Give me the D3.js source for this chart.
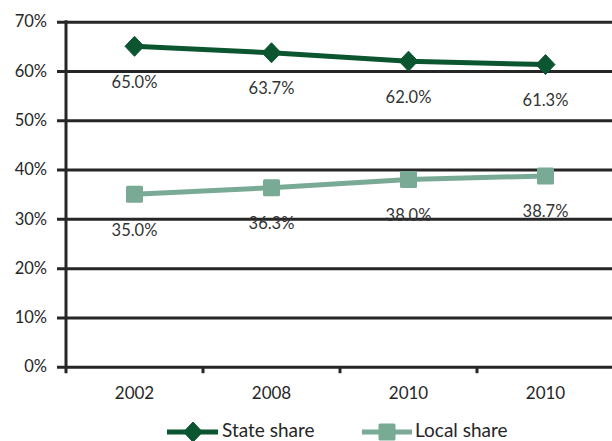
<!DOCTYPE html>
<html><head><meta charset="utf-8">
<script src="https://cdn.jsdelivr.net/npm/d3@7"></script>
<style>
html,body{margin:0;padding:0;background:#fff;}
svg{display:block;}
text{font-family:Lato,"Open Sans",sans-serif;}
</style></head>
<body>
<svg id="c" width="612" height="441"></svg>
<script>
const categories = ["2002", "2008", "2010", "2010"];
const stateShare = [65.0, 63.7, 62.0, 61.3];
const localShare = [35.0, 36.3, 38.0, 38.7];
const yTicks = [0, 10, 20, 30, 40, 50, 60, 70];
const seriesNames = ["State share", "Local share"];

(function () {
const W = 612, H = 441;
const plotLeft = 66, plotTop = 21.7, plotBottom = 366.7, bandW = 137;
const svg = d3.select("#c");

const x = d3.scaleBand().domain(d3.range(categories.length)).range([plotLeft, plotLeft + bandW * categories.length]).padding(0);
const y = d3.scaleLinear().domain([0, 70]).range([plotBottom, plotTop]);

const gridColor = "#262626";
const darkG = "#0b5631";
const lightG = "#79aa95";

// y axis with gridlines
const ya = svg.append("g").attr("transform", `translate(${plotLeft},0)`)
  .call(d3.axisLeft(y).tickValues(yTicks).tickFormat(d => d + "%").tickSizeOuter(0).tickSize(9).tickPadding(10));
ya.select(".domain").remove();
ya.selectAll(".tick line").attr("x1", -9).attr("x2", W - plotLeft).attr("stroke", gridColor).attr("stroke-width", 3);
ya.selectAll(".tick text").attr("font-size", 16.5).attr("fill", "#262626").attr("font-family", "Lato, sans-serif");

// vertical axis line
svg.append("line").attr("x1", plotLeft).attr("x2", plotLeft).attr("y1", plotTop - 1.5).attr("y2", plotBottom + 6.5)
  .attr("stroke", gridColor).attr("stroke-width", 3);

// x axis (category labels + boundary ticks)
const xa = svg.append("g").attr("transform", `translate(0,${plotBottom})`)
  .call(d3.axisBottom(x).tickFormat(i => categories[i]).tickSize(0).tickPadding(20));
xa.select(".domain").remove();
xa.selectAll(".tick text").attr("font-size", 17).attr("fill", "#262626").attr("font-family", "Lato, sans-serif");
svg.append("g").selectAll("line").data(d3.range(1, categories.length)).join("line")
  .attr("x1", i => x(i)).attr("x2", i => x(i)).attr("y1", plotBottom).attr("y2", plotBottom + 6.5)
  .attr("stroke", gridColor).attr("stroke-width", 3);

const cx = i => x(i) + x.bandwidth() / 2;
const line = d3.line().x((d, i) => cx(i)).y(d => y(d));

// lines
svg.append("path").datum(localShare).attr("d", line).attr("fill", "none").attr("stroke", lightG).attr("stroke-width", 5);
svg.append("path").datum(stateShare).attr("d", line).attr("fill", "none").attr("stroke", darkG).attr("stroke-width", 5);

function drawDiamond(g, px, py) {
  g.append("path").attr("d", "M0,-10L9.5,0L0,10L-9.5,0Z").attr("transform", `translate(${px},${py})`)
    .attr("fill", darkG).attr("stroke", darkG).attr("stroke-width", 1).attr("stroke-linejoin", "round");
}
function drawSquare(g, px, py) {
  g.append("rect").attr("x", px - 8.5).attr("y", py - 8.5).attr("width", 17).attr("height", 17).attr("rx", 1.5)
    .attr("fill", lightG);
}
const mg = svg.append("g");
stateShare.forEach((v, i) => drawDiamond(mg, cx(i), y(v)));
localShare.forEach((v, i) => drawSquare(mg, cx(i), y(v)));

// data labels
const lg = svg.append("g");
[stateShare, localShare].forEach(s => {
  lg.selectAll(null).data(s).join("text")
    .attr("x", (d, i) => cx(i)).attr("y", d => y(d) + 35.5)
    .attr("text-anchor", "middle").attr("dominant-baseline", "central")
    .attr("font-size", 16.5).attr("fill", "#333")
    .text(d => d.toFixed(1) + "%");
});

// legend
const leg = svg.append("g");
const ly = 432, ty = 429.5;
leg.append("line").attr("x1", 167).attr("x2", 218).attr("y1", ly).attr("y2", ly).attr("stroke", darkG).attr("stroke-width", 5);
drawDiamond(leg, 193, ly);
leg.append("text").attr("x", 222).attr("y", ty).attr("dominant-baseline", "central").attr("font-size", 19).attr("fill", "#262626").text(seriesNames[0]);
leg.append("line").attr("x1", 362).attr("x2", 412).attr("y1", ly).attr("y2", ly).attr("stroke", lightG).attr("stroke-width", 5);
drawSquare(leg, 387, ly);
leg.append("text").attr("x", 415).attr("y", ty).attr("dominant-baseline", "central").attr("font-size", 19).attr("fill", "#262626").text(seriesNames[1]);
})();
</script>
</body></html>
